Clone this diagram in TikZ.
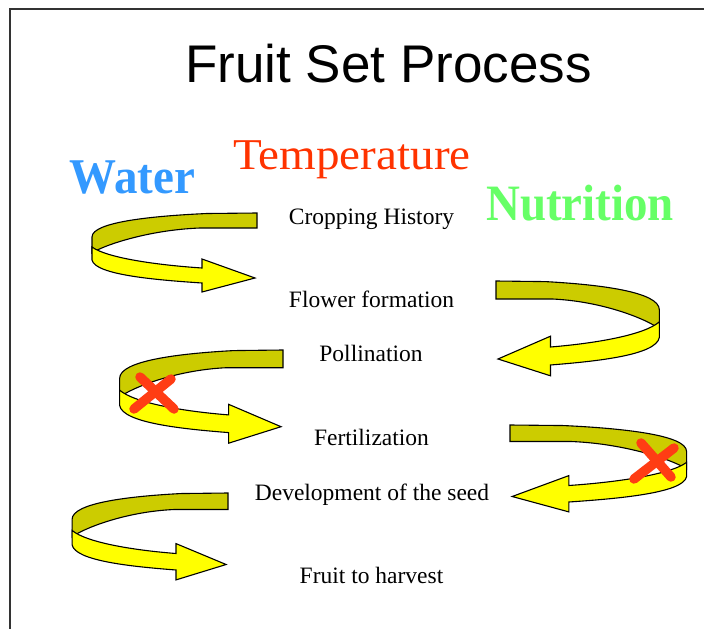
\documentclass[tikz,border=0pt]{standalone}
\usepackage{fontspec}
\setmainfont{Liberation Serif}
\newfontfamily\titlefont{Liberation Sans}
\newfontfamily\labelfont{Liberation Serif}
\usepackage{graphicx}
\definecolor{bandback}{HTML}{CCCC00}
\definecolor{bandfront}{HTML}{FFFF00}
\definecolor{watercol}{HTML}{3399FF}
\definecolor{tempcol}{HTML}{FF3300}
\definecolor{nutcol}{HTML}{66FF66}
\definecolor{xcol}{HTML}{FF3D14}
\tikzset{
  band/.style={draw=black, line width=1.1pt, line join=miter},
  framestyle/.style={draw=black!80, line width=1.3pt},
  steplabel/.style={anchor=base, inner sep=0pt, font=\labelfont\fontsize{23.5}{26}\selectfont},
  factor/.style={anchor=base, inner sep=0pt},
  crossmark/.style={draw=xcol, line width=9.5pt, line cap=round}
}
\newcommand{\curlarrow}[5]{%
\begin{scope}[shift={(#2,#3)}, xscale=#4, yscale=#5]
  \filldraw[band, fill=bandback] (0,0) -- (-50,0.5) .. controls (-105,3) and (-165,9) .. (-165,24)
     -- (-165,40) .. controls (-155,33) and (-110,17) .. (-57,15) -- (0,15) -- cycle;
  \filldraw[band, fill=bandfront] (-165,34) .. controls (-150,45) and (-100,52) .. (-55,55)
     -- (-55,46) -- (-2,65) -- (-55,79) -- (-55,70) .. controls (-100,67) and (-162,62) .. (-165,47) -- cycle;
  \coordinate (#1) at (-110,40);
\end{scope}}
\begin{document}
\begin{tikzpicture}[x=1pt,y=-1pt]
\useasboundingbox (0,0) rectangle (704,629);
\fill[white] (0,0) rectangle (704,629);
\draw[framestyle] (10,629) -- (10,9) -- (704,9);

\node[factor, font=\titlefont\fontsize{53}{60}\selectfont] (title) at (388.5,82) {Fruit Set Process};

\node[factor, text=watercol, font=\labelfont\fontsize{50}{56}\bfseries] (water) at (132.5,193) {\scalebox{0.94}[1]{Water}};
\node[factor, text=tempcol, font=\labelfont\fontsize{44}{50}\selectfont] (temp) at (352,169) {\scalebox{1.07}[1]{Temperature}};
\node[factor, text=nutcol, font=\labelfont\fontsize{51}{56}\bfseries] (nutr) at (580,220) {\scalebox{0.92}[1]{Nutrition}};

\node[steplabel] (s1) at (371.5,224) {Cropping History};
\node[steplabel] (s2) at (371.5,307.5) {Flower formation};
\node[steplabel] (s3) at (371,361.5) {Pollination};
\node[steplabel] (s4) at (371.5,445) {Fertilization};
\node[steplabel] (s5) at (372,500) {Development of the seed};
\node[steplabel] (s6) at (371.5,583) {Fruit to harvest};

\curlarrow{a1}{257}{213}{1}{1}
\curlarrow{a2}{496}{281}{-0.99}{1.2}
\curlarrow{a3}{283}{350}{0.99}{1.18}
\curlarrow{a4}{510}{425}{-1.07}{1.1}
\curlarrow{a5}{228}{493}{0.945}{1.1}

\draw[crossmark] (140,377) -- (174,409);
\draw[crossmark] (171,379) -- (134,409);
\draw[crossmark] (641,443) -- (671,477);
\draw[crossmark] (674,448) -- (634,479);
\end{tikzpicture}
\end{document}
